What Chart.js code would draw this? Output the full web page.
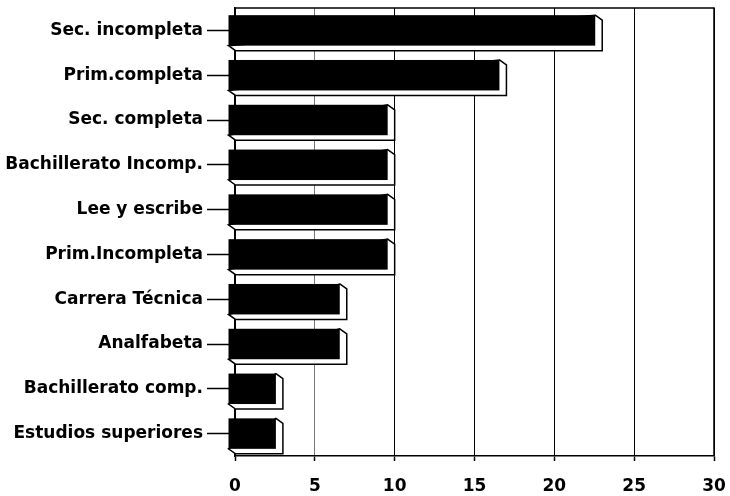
<!DOCTYPE html>
<html>
<head>
<meta charset="utf-8">
<script src="https://cdn.jsdelivr.net/npm/chart.js@4.4.0/dist/chart.umd.min.js"></script>
<style>
  html, body { margin: 0; padding: 0; background: #fff; }
  #wrap { width: 730px; height: 496px; }
</style>
</head>
<body>
<div id="wrap"><canvas id="myChart" width="730" height="496"></canvas></div>
<script>
// nivel de escolaridad (porcentaje)
const categories = [
  "Sec. incompleta",
  "Prim.completa",
  "Sec. completa",
  "Bachillerato Incomp.",
  "Lee y escribe",
  "Prim.Incompleta",
  "Carrera Técnica",
  "Analfabeta",
  "Bachillerato comp.",
  "Estudios superiores"
];
const values = [23, 17, 10, 10, 10, 10, 7, 7, 3, 3];
const xTicks = [0, 5, 10, 15, 20, 25, 30];

const FONT = "'DejaVu Sans', sans-serif";

// barras con efecto 3D: cara negra al frente, costado blanco abajo/derecha
const bars3d = {
  id: "bars3d",
  beforeDatasetsDraw(chart) {
    const { ctx, chartArea } = chart;
    ctx.save();
    ctx.strokeStyle = "#000";
    ctx.lineWidth = 1.5;
    ctx.beginPath();
    ctx.moveTo(chartArea.left, chartArea.top);
    ctx.lineTo(chartArea.right, chartArea.top);
    ctx.lineTo(chartArea.right, chartArea.bottom);
    ctx.stroke();
    ctx.restore();
  },
  afterDatasetsDraw(chart) {
    const { ctx } = chart;
    const dx = 7, dy = 5;
    chart.getDatasetMeta(0).data.forEach(el => {
      const h = el.height;
      const L = el.base - dx, R = el.x - dx;
      const T = el.y - h / 2, B = el.y + h / 2;
      ctx.save();
      ctx.beginPath();
      ctx.moveTo(R, T);
      ctx.lineTo(R + dx, T + dy);
      ctx.lineTo(R + dx, B + dy);
      ctx.lineTo(L + dx, B + dy);
      ctx.lineTo(L, B);
      ctx.closePath();
      ctx.fillStyle = "#fff";
      ctx.fill();
      ctx.strokeStyle = "#000";
      ctx.lineWidth = 1.5;
      ctx.stroke();
      ctx.fillStyle = "#000";
      ctx.fillRect(L, T, R - L, B - T);
      ctx.restore();
    });
  }
};

new Chart("myChart", {
  type: "bar",
  data: {
    labels: categories,
    datasets: [{
      data: values,
      backgroundColor: "rgba(0,0,0,0)",
      borderWidth: 0,
      barPercentage: 0.68,
      categoryPercentage: 1
    }]
  },
  options: {
    indexAxis: "y",
    responsive: false,
    animation: false,
    layout: { padding: { top: 8, right: 16, left: 0, bottom: 0 } },
    plugins: { legend: { display: false }, tooltip: { enabled: false } },
    scales: {
      x: {
        min: 0,
        max: 30,
        afterBuildTicks: s => { s.ticks = xTicks.map(v => ({ value: v })); },
        afterFit: s => { s.height = 40; s.paddingLeft = 0; s.paddingRight = 0; },
        grid: {
          color: c => (c.tick && c.tick.value === 5 ? "#777" : "#000"),
          lineWidth: 1,
          tickLength: 5,
          tickColor: "#000",
          tickWidth: 1.5
        },
        border: { color: "#000", width: 1.5 },
        ticks: {
          color: "#000",
          padding: 15,
          font: { family: FONT, size: 17, weight: "bold" }
        }
      },
      y: {
        afterFit: s => { s.width = 235; s.paddingTop = 0; s.paddingBottom = 0; },
        grid: {
          offset: false,
          drawOnChartArea: false,
          tickLength: 28,
          tickColor: "#000",
          tickWidth: 1.5
        },
        border: { color: "#000", width: 1.5 },
        ticks: {
          color: "#000",
          padding: 4,
          font: { family: FONT, size: 17, weight: "bold" }
        }
      }
    }
  },
  plugins: [bars3d]
});
</script>
</body>
</html>
